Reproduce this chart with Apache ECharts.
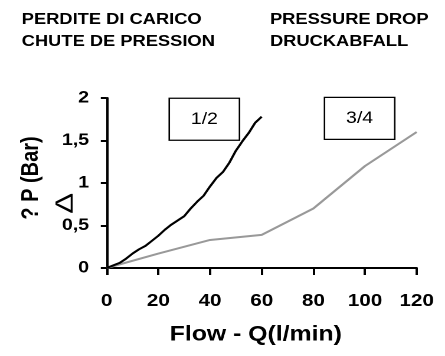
<!DOCTYPE html>
<html>
<head>
<meta charset="utf-8">
<script src="https://cdn.jsdelivr.net/npm/echarts@6/dist/echarts.min.js"></script>
<style>
  html, body { margin: 0; padding: 0; background: #fff; overflow: hidden; }
  /* the chart is laid out on a narrower canvas and widened horizontally */
  #wrap { width: 377px; height: 356px; transform: scaleX(1.1804); transform-origin: 0 0; }
</style>
</head>
<body>
<div id="wrap"></div>
<script>
// Flow (l/min) and pressure drop (bar) for the two valve sizes
const flow12 = [0, 2.5, 5, 7.5, 10, 12.5, 15, 17.5, 20, 22.5, 25, 27.5, 30, 32.5, 35, 37.5, 40, 42.5, 45, 47.5, 50, 52.5, 55, 57.5, 60];
const drop12 = [0, 0.03, 0.06, 0.11, 0.17, 0.22, 0.26, 0.32, 0.38, 0.45, 0.51, 0.56, 0.61, 0.70, 0.78, 0.85, 0.96, 1.06, 1.13, 1.24, 1.38, 1.49, 1.59, 1.71, 1.78];
const flow34 = [0, 20, 40, 60, 80, 100, 120];
const drop34 = [0, 0.17, 0.33, 0.39, 0.70, 1.20, 1.60];
const sizeLabels = ['1/2', '3/4'];
const xTicks = [0, 20, 40, 60, 80, 100, 120];
const yTicks = ['0', '0,5', '1', '1,5', '2'];
const titleLeft = ['PERDITE DI CARICO', 'CHUTE DE PRESSION'];
const titleRight = ['PRESSURE DROP', 'DRUCKABFALL'];

const pairs = (xs, ys) => xs.map((x, i) => [x, ys[i]]);
const FONT = '"Liberation Sans", Arial, sans-serif';

const chart = echarts.init(document.getElementById('wrap'), null, { devicePixelRatio: 2 });

const titleStyle = { fontFamily: FONT, fontWeight: 'bold', fontSize: 15.5, color: '#000', lineHeight: 21.7 };

chart.setOption({
  animation: false,
  backgroundColor: '#fff',
  title: [
    { text: titleLeft.join('\n'), left: 18.4, top: 9, padding: 0, textStyle: titleStyle },
    { text: titleRight.join('\n'), left: 228.7, top: 9, padding: 0, textStyle: titleStyle }
  ],
  grid: { left: 90.4, top: 98, width: 262.6, height: 170 },
  xAxis: {
    type: 'value',
    min: xTicks[0],
    max: xTicks[xTicks.length - 1],
    interval: 20,
    name: 'Flow - Q(l/min)',
    nameLocation: 'middle',
    nameGap: 56,
    nameTextStyle: { fontFamily: FONT, fontWeight: 'bold', fontSize: 21, color: '#000', padding: [0, 10, 0, 0] },
    axisLine: { lineStyle: { color: '#000', width: 2 } },
    axisTick: { inside: false, length: 7, lineStyle: { color: '#000', width: 2 } },
    axisLabel: { margin: 24, fontFamily: FONT, fontWeight: 'bold', fontSize: 17.5, color: '#000' },
    splitLine: { show: false }
  },
  yAxis: {
    type: 'value',
    min: 0,
    max: 2,
    interval: 0.5,
    name: '? P (Bar)',
    nameLocation: 'middle',
    nameGap: 54,
    nameTextStyle: { fontFamily: FONT, fontWeight: 'bold', fontSize: 20, color: '#000', padding: [0, 0, 0, 10] },
    axisLine: { show: true, lineStyle: { color: '#000', width: 2 } },
    axisTick: { show: true, inside: false, length: 5, lineStyle: { color: '#000', width: 2 } },
    axisLabel: {
      margin: 15, fontFamily: FONT, fontWeight: 'bold', fontSize: 16.5, color: '#000',
      formatter: v => yTicks[Math.round(v / 0.5)]
    },
    splitLine: { show: false }
  },
  series: [
    {
      name: sizeLabels[1], type: 'line', data: pairs(flow34, drop34),
      showSymbol: false, lineStyle: { color: '#999999', width: 2 }, z: 2
    },
    {
      name: sizeLabels[0], type: 'line', data: pairs(flow12, drop12),
      showSymbol: false, lineStyle: { color: '#000', width: 2 }, z: 3
    }
  ]
});

// size captions in boxes, anchored in data coordinates
function box(text, anchor) {
  const p = chart.convertToPixel({ gridIndex: 0 }, anchor);
  const w = 59.5, h = 42;
  return {
    type: 'group', x: p[0] - w / 2, y: p[1] - h / 2,
    children: [
      { type: 'rect', shape: { x: 0, y: 0, width: w, height: h }, style: { fill: '#fff', stroke: '#000', lineWidth: 1.3 } },
      { type: 'text', x: w / 2, y: h / 2, style: { text: text, fontFamily: FONT, fontSize: 16.5, fill: '#000', align: 'center', verticalAlign: 'middle' } }
    ]
  };
}

chart.setOption({
  graphic: [
    box(sizeLabels[0], [37.8, 1.75]),
    box(sizeLabels[1], [97.9, 1.76]),
    {
      type: 'text', x: 55.8, y: 203.3, rotation: Math.PI / 2, scaleX: 1.42, scaleY: 0.98,
      style: { text: 'Δ', fontFamily: FONT, fontSize: 22, fill: '#000', align: 'center', verticalAlign: 'middle' }
    }
  ]
});
</script>
</body>
</html>
